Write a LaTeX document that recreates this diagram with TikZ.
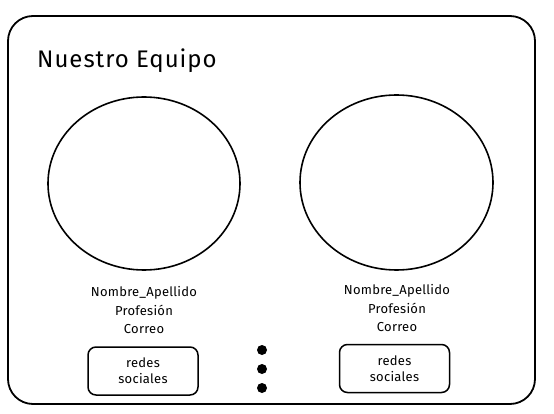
\documentclass[tikz,border=0pt]{standalone}
\usepackage{fontspec}
\setmainfont{Fira Sans}
\usetikzlibrary{shapes.geometric,positioning}

\begin{document}
\begin{tikzpicture}[
    x=1pt, y=-1pt,
    frame/.style={draw, line width=1.8pt, rounded corners=25pt},
    foto/.style={draw, ellipse, line width=1.6pt, inner sep=0pt},
    datos/.style={align=center, font=\fontsize{13}{18.5}\selectfont\addfontfeature{LetterSpace=2}},
    boton/.style={draw, line width=1.5pt, rounded corners=8pt, minimum width=110pt, minimum height=48pt, align=center, font=\fontsize{13}{16}\selectfont\addfontfeature{LetterSpace=2}},
    punto/.style={circle, fill, inner sep=0pt, minimum size=10pt}
]
    \useasboundingbox (0,0) rectangle (554,414);

    % Frame
    \draw[frame] (8,16) rectangle (535,404);
    \node[anchor=base west, inner sep=0pt, font=\fontsize{24}{28}\selectfont\addfontfeature{LetterSpace=4}] (titulo) at (37,68) {Nuestro Equipo};

    % Photos
    \node[foto, minimum width=192pt, minimum height=173pt] (fotoA) at (144,183.5) {};
    \node[foto, minimum width=193pt, minimum height=175pt] (fotoB) at (396.5,182.5) {};

    % Member data
    \node[datos, anchor=north] (infoA) at (144,283) {Nombre\_Apellido\\Profesión\\Correo};
    \node[datos, anchor=north] (infoB) at (397,281) {Nombre\_Apellido\\Profesión\\Correo};

    % Social buttons
    \node[boton] (redesA) at (143,371) {redes\\sociales};
    \node[boton] (redesB) at (394.5,368.5) {redes\\sociales};

    % More members
    \foreach \i/\y in {1/350,2/369,3/388}
        \node[punto] (mas\i) at (262,\y) {};
\end{tikzpicture}
\end{document}
